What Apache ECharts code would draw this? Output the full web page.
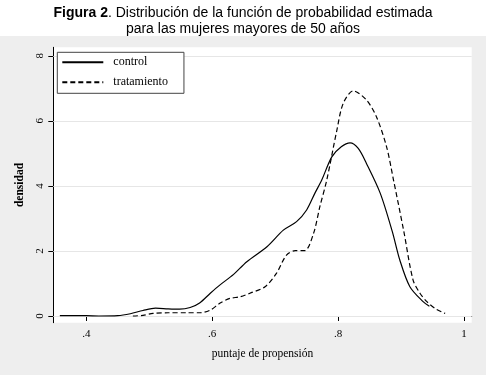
<!DOCTYPE html>
<html>
<head>
<meta charset="utf-8">
<script src="https://cdn.jsdelivr.net/npm/echarts@6/dist/echarts.min.js"></script>
<style>html,body{margin:0;padding:0;background:#fff;}#c{width:486px;height:375px;}</style>
</head>
<body>
<div id="c"></div>
<script>
// Data
const controlX = [0.358,0.40,0.42,0.45,0.47,0.49,0.51,0.53,0.548,0.565,0.58,0.597,0.612,0.634,0.655,0.687,0.713,0.734,0.750,0.763,0.774,0.790,0.805,0.819,0.832,0.845,0.867,0.886,0.898,0.914,0.935,0.945];
const controlY = [0.01,0.01,0.0,0.01,0.07,0.17,0.24,0.22,0.21,0.26,0.40,0.70,0.95,1.28,1.67,2.13,2.64,2.90,3.26,3.77,4.18,4.89,5.20,5.32,5.15,4.69,3.77,2.60,1.72,0.90,0.44,0.30];
const tratX = [0.474,0.49,0.506,0.53,0.56,0.581,0.597,0.612,0.628,0.644,0.660,0.684,0.702,0.718,0.732,0.747,0.761,0.771,0.782,0.798,0.808,0.824,0.845,0.861,0.877,0.888,0.904,0.919,0.930,0.941,0.955,0.970];
const tratY = [0.0,0.02,0.08,0.10,0.10,0.10,0.18,0.39,0.54,0.59,0.70,0.90,1.31,1.87,2.01,2.01,2.54,3.36,4.18,5.71,6.53,6.92,6.64,6.12,5.20,4.18,2.64,1.11,0.70,0.44,0.22,0.08];
const xTicks = [0.4, 0.6, 0.8, 1];
const xTickLabels = ['.4', '.6', '.8', '1'];
const yTicks = [0, 2, 4, 6, 8];
const yTickLabels = ['0', '2', '4', '6', '8'];
const seriesNames = ['control', 'tratamiento'];
const titleLine1Bold = 'Figura 2';
const titleLine1 = '. Distribución de la función de probabilidad estimada';
const titleLine2 = 'para las mujeres mayores de 50 años';
const xName = 'puntaje de propensión';
const yName = 'densidad';

const zip = (xs, ys) => xs.map((x, i) => [x, ys[i]]);
const serif = '"Liberation Serif", "Times New Roman", serif';
const sans = '"Liberation Sans", Arial, sans-serif';

const chart = echarts.init(document.getElementById('c'), null, {renderer: 'canvas'});
chart.setOption({
  animation: false,
  backgroundColor: '#ffffff',
  graphic: [{
    type: 'rect', z: -10, silent: true,
    shape: {x: 0, y: 36, width: 486, height: 339},
    style: {fill: '#eeeeee'}
  }],
  title: {
    left: 'center', top: 0,
    text: '{b|' + titleLine1Bold + '}' + titleLine1 + '\n' + titleLine2,
    textStyle: {
      fontFamily: sans, fontSize: 14, fontWeight: 'normal',
      color: '#000', lineHeight: 16,
      rich: {b: {fontFamily: sans, fontSize: 14, fontWeight: 'bold', color: '#000', lineHeight: 16}}
    }
  },
  grid: {
    left: 53.3, right: 14.3, top: 47.3, bottom: 52.3,
    show: true, backgroundColor: '#ffffff', borderWidth: 0
  },
  legend: {
    orient: 'vertical', left: 57.3, top: 52.3,
    data: seriesNames,
    backgroundColor: '#ffffff', borderColor: '#444', borderWidth: 1,
    padding: [4, 16, 5, 4],
    itemWidth: 41, itemHeight: 10, itemGap: 8,
    itemStyle: {opacity: 0},
    textStyle: {fontFamily: serif, fontSize: 12, color: '#000', padding: [0, 0, 0, 5]}
  },
  xAxis: {
    type: 'value', min: 0.3476, max: 1.0122,
    name: xName, nameLocation: 'middle', nameGap: 25,
    nameTextStyle: {fontFamily: serif, fontSize: 11.5, color: '#000'},
    axisLine: {show: true, lineStyle: {color: '#000', width: 1}},
    axisTick: {show: true, length: 5, lineStyle: {color: '#000'}, customValues: xTicks},
    axisLabel: {fontFamily: serif, fontSize: 11, color: '#000', margin: 6, customValues: xTicks,
      formatter: v => xTickLabels[xTicks.findIndex(t => Math.abs(t - v) < 1e-6)]},
    splitLine: {show: false}
  },
  yAxis: {
    type: 'value', min: -0.206, max: 8.26,
    name: yName, nameLocation: 'middle', nameGap: 26, nameRotate: 90,
    nameTextStyle: {fontFamily: serif, fontSize: 11.5, color: '#000', fontWeight: 'bold'},
    axisLine: {show: true, lineStyle: {color: '#000', width: 1}},
    axisTick: {show: true, length: 5, lineStyle: {color: '#000'}, customValues: yTicks},
    axisLabel: {fontFamily: serif, fontSize: 11, color: '#000', rotate: 90, margin: 8, customValues: yTicks,
      formatter: v => yTickLabels[yTicks.findIndex(t => Math.abs(t - v) < 1e-6)]},
    splitLine: {show: false}
  },
  series: [
    {
      name: seriesNames[0], type: 'line', data: zip(controlX, controlY),
      smooth: 0.3, symbol: 'none', z: 3,
      lineStyle: {color: '#000', width: 1.2, type: 'solid'},
      itemStyle: {color: '#000'},
      markLine: {
        silent: true, symbol: 'none', label: {show: false}, z: 1,
        lineStyle: {color: '#e6e6e6', width: 1, type: 'solid'},
        data: yTicks.map(v => ({yAxis: v}))
      }
    },
    {
      name: seriesNames[1], type: 'line', data: zip(tratX, tratY),
      smooth: 0.3, symbol: 'none', z: 3,
      lineStyle: {color: '#000', width: 1.2, type: [5, 3]},
      itemStyle: {color: '#000'}
    }
  ]
});
</script>
</body>
</html>
